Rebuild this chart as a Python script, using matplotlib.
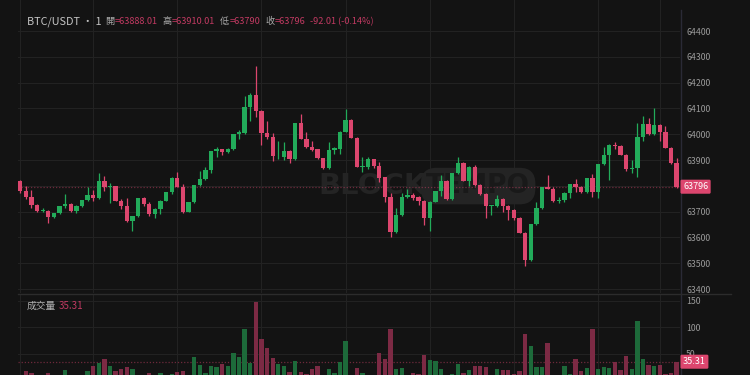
import matplotlib
matplotlib.use("Agg")
import matplotlib.pyplot as plt
from matplotlib.lines import Line2D

plt.rcParams['font.family'] = ['Noto Sans CJK TC', 'DejaVu Sans']

# 1 minute candles, BTC/USDT
opens = [63818, 63780, 63758, 63726, 63702, 63704, 63678, 63694, 63721, 63730,
         63703, 63722, 63744, 63764, 63754, 63819, 63796, 63798, 63741, 63721,
         63663, 63683, 63752, 63729, 63691, 63712, 63743, 63775, 63832, 63797,
         63700, 63736, 63803, 63826, 63860, 63934, 63942, 63930, 63943, 64001,
         64006, 64106, 64151, 64091, 64004, 63988, 63938, 63913, 63936, 63905,
         64043, 63982, 63950, 63942, 63907, 63868, 63939, 63942, 64010, 64055,
         63987, 63875, 63874, 63903, 63877, 63833, 63756, 63622, 63687, 63757,
         63766, 63756, 63743, 63677, 63739, 63780, 63820, 63749, 63849, 63890,
         63820, 63874, 63803, 63769, 63723, 63722, 63750, 63722, 63707, 63677,
         63619, 63513, 63652, 63713, 63796, 63789, 63740, 63745, 63774, 63806,
         63796, 63776, 63829, 63776, 63884, 63920, 63958, 63956, 63920, 63864,
         63871, 63991, 64039, 64000, 64036, 64010, 63948, 63888.01]
highs = [63823, 63800, 63784, 63729, 63715, 63707, 63696, 63722, 63767, 63733,
         63724, 63746, 63797, 63784, 63850, 63838, 63810, 63800, 63750, 63754,
         63684, 63754, 63756, 63738, 63713, 63744, 63776, 63833, 63853, 63807,
         63738, 63805, 63858, 63872, 63936, 63950, 63944, 63945, 64002, 64017,
         64148, 64159, 64265, 64095, 64050, 64004, 63974, 63971, 63939, 64045,
         64079, 64008, 63975, 63944, 63910, 63969, 63952, 64012, 64098, 64058,
         63990, 63911, 63911, 63906, 63891, 63836, 63774, 63716, 63774, 63789,
         63774, 63759, 63745, 63741, 63782, 63842, 63823, 63851, 63913, 63893,
         63877, 63881, 63806, 63772, 63727, 63765, 63753, 63724, 63709, 63679,
         63621, 63654, 63736, 63797, 63842, 63796, 63756, 63776, 63808, 63826,
         63799, 63832, 63846, 63886, 63950, 63961, 63969, 63959, 63922, 63900,
         64045, 64072, 64064, 64101, 64039, 64033, 63951, 63910.01]
lows = [63771, 63748, 63715, 63700, 63700, 63657, 63675, 63690, 63714, 63700,
        63694, 63720, 63742, 63741, 63749, 63781, 63735, 63740, 63709, 63660,
        63624, 63681, 63723, 63683, 63676, 63691, 63740, 63767, 63794, 63696,
        63697, 63734, 63800, 63823, 63851, 63913, 63920, 63928, 63940, 63983,
        64003, 64052, 64068, 63957, 63982, 63898, 63905, 63900, 63888, 63902,
        63980, 63948, 63937, 63905, 63866, 63865, 63924, 63924, 64007, 63985,
        63872, 63855, 63866, 63868, 63814, 63739, 63601, 63619, 63684, 63754,
        63745, 63726, 63648, 63626, 63736, 63761, 63747, 63746, 63846, 63818,
        63800, 63801, 63766, 63677, 63687, 63719, 63700, 63668, 63668, 63616,
        63491, 63510, 63650, 63710, 63787, 63739, 63733, 63737, 63752, 63775,
        63774, 63773, 63758, 63752, 63881, 63823, 63942, 63918, 63858, 63851,
        63836, 63974, 63998, 63997, 63974, 63946, 63885, 63790]
closes = [63780, 63758, 63726, 63703, 63706, 63678, 63694, 63721, 63730, 63703,
          63722, 63744, 63764, 63754, 63819, 63797, 63798, 63741, 63721, 63663,
          63683, 63752, 63729, 63691, 63712, 63743, 63775, 63832, 63797, 63700,
          63736, 63803, 63826, 63860, 63934, 63942, 63930, 63943, 64000, 64010,
          64106, 64151, 64091, 64004, 63988, 63916, 63940, 63935, 63905, 64043,
          63982, 63950, 63939, 63907, 63868, 63939, 63946, 64010, 64055, 63987,
          63874, 63877, 63903, 63877, 63832, 63756, 63622, 63687, 63758, 63766,
          63753, 63743, 63677, 63739, 63780, 63820, 63749, 63849, 63890, 63820,
          63874, 63803, 63769, 63722, 63725, 63750, 63722, 63707, 63674, 63619,
          63513, 63652, 63713, 63796, 63789, 63741, 63745, 63774, 63806, 63797,
          63776, 63829, 63776, 63884, 63920, 63958, 63954, 63920, 63864, 63871,
          63991, 64039, 64000, 64036, 64010, 63948, 63888, 63796]
volumes = [8, 18, 15, 7, 5, 15, 6, 8, 20, 7,
           6, 9, 17, 27, 33, 40, 28, 17, 22, 26,
           22, 9, 7, 14, 8, 14, 9, 12, 16, 17,
           10, 44, 30, 14, 27, 25, 31, 27, 51, 44,
           98, 33, 147, 78, 62, 42, 31, 27, 16, 37,
           16, 12, 21, 27, 9, 21, 15, 35, 74, 9,
           23, 15, 8, 9, 52, 40, 98, 22, 24, 9,
           14, 12, 49, 39, 37, 22, 8, 12, 31, 15,
           20, 27, 28, 26, 7, 22, 20, 20, 12, 18,
           88, 65, 26, 26, 71, 9, 8, 28, 12, 40,
           18, 23, 98, 22, 26, 23, 34, 20, 46, 22,
           112, 41, 29, 27, 29, 12, 15, 35.31]

price_ticks = [63400, 63500, 63600, 63700, 63800, 63900, 64000, 64100, 64200, 64300, 64400]
vol_ticks = [50, 100, 150]
time_grid = [0, 13, 28, 43, 58, 73, 88, 103, 114]
last_price = 63796
last_vol = 35.31
header = [('開', '=63888.01'), ('高', '=63910.01'), ('低', '=63790'), ('收', '=63796')]
change = '-92.01 (-0.14%)'

bg = '#131313'
grid = '#222222'
up = '#22ab5a'
down = '#dc466e'
up_vol = '#1d6a3a'
down_vol = '#7c2a44'
txt = '#9a9a9a'
red_txt = '#c23a62'

W, H = 750, 375
fig = plt.figure(figsize=(7.5, 3.75), dpi=100, facecolor=bg)

def fx(px):
    return px / W

def fy(py):
    return 1 - py / H

ax = fig.add_axes([fx(18), fy(293), fx(680) - fx(18), fy(0) - fy(293)], facecolor=bg)
axv = fig.add_axes([fx(18), 0, fx(680) - fx(18), fy(294)], facecolor=bg)

n = len(opens)
xs = list(range(n))
col = [up if c >= o else down for o, c in zip(opens, closes)]
vcol = [up_vol if c >= o else down_vol for o, c in zip(opens, closes)]

for a in (ax, axv):
    for t in time_grid:
        a.axvline(t, color=grid, lw=0.8, zorder=0)
    for s in a.spines.values():
        s.set_visible(False)
    a.set_xlim(-0.4, 117.6)
    a.set_xticks([])
    a.yaxis.tick_right()
    a.tick_params(axis='y', length=0, pad=4.5, labelcolor=txt, labelsize=6.3)

for p in price_ticks:
    ax.axhline(p, color=grid, lw=0.8, zorder=0)
for v in vol_ticks:
    axv.axhline(v, color=grid, lw=0.8, zorder=0)

# candles
ax.vlines(xs, lows, highs, colors=col, lw=0.9, zorder=3)
bottoms = [min(o, c) for o, c in zip(opens, closes)]
heights = [max(abs(c - o), 3) for o, c in zip(opens, closes)]
ax.bar(xs, heights, bottom=bottoms, width=0.77, color=col, zorder=4)
ax.set_ylim(63384.8, 64520.5)
ax.set_yticks(price_ticks)
# the 63800 label sits under the last price box
ax.set_yticklabels(['' if p == 63800 else str(p) for p in price_ticks])

axv.bar(xs, volumes, width=0.77, color=vcol, zorder=3)
axv.set_ylim(10.4, 163)
axv.set_yticks(vol_ticks)
axv.set_yticklabels([str(v) for v in vol_ticks])

# last value dotted lines
ax.axhline(last_price, color=down, lw=0.9, ls=(0, (1, 1.5)), alpha=0.45, zorder=2)
axv.axhline(last_vol, color=down, lw=0.9, ls=(0, (1, 1.5)), alpha=0.45, zorder=2)

# watermark
ax.text(0.535, 0.365, 'BLOCK', transform=ax.transAxes, fontsize=21, fontweight='bold',
        family='DejaVu Sans', color='#242424', ha='center', va='center', zorder=1)
ax.text(0.695, 0.365, 'TEMPO', transform=ax.transAxes, fontsize=19, fontweight='bold',
        family='DejaVu Sans', color='#191919', ha='center', va='center', zorder=1,
        bbox=dict(boxstyle='round,pad=0.2,rounding_size=0.6', fc='#242424', ec='none'))

# axis frame lines
fig.add_artist(Line2D([fx(680.5), fx(680.5)], [fy(10), 0], color='#2a2a36', lw=1))
fig.add_artist(Line2D([fx(18), fx(731)], [fy(293.5), fy(293.5)], color='#2c2c2c', lw=1))

# last value labels
fig.text(fx(683), fy(186.7), str(last_price), color='white', fontsize=6.5, va='center', ha='left',
         zorder=5, bbox=dict(boxstyle='round,pad=0.28,rounding_size=0.15', fc=down, ec='none'))
fig.text(fx(683), fy(361.7), f'{last_vol:.2f}', color='white', fontsize=6.5, va='center', ha='left',
         zorder=5, bbox=dict(boxstyle='round,pad=0.28,rounding_size=0.15', fc=down, ec='none'))

# header
fig.text(fx(27), fy(21.5), 'BTC/USDT · 1', color='#c4c4c4', fontsize=7.8, va='center')
prev = fig.text(fx(105), fy(21.5), header[0][0], color='#a8a8a8', fontsize=6.6, va='center')
first = True
for lab, val in header:
    if not first:
        prev = ax.annotate(lab, xy=(1, 0.5), xycoords=prev, xytext=(3.6, 0), textcoords='offset points',
                           color='#a8a8a8', fontsize=6.6, va='center', annotation_clip=False)
    first = False
    prev = ax.annotate(val, xy=(1, 0.5), xycoords=prev, xytext=(0.2, 0), textcoords='offset points',
                       color=red_txt, fontsize=6.6, va='center', annotation_clip=False)
ax.annotate(change, xy=(1, 0.5), xycoords=prev, xytext=(3.6, 0), textcoords='offset points',
            color=red_txt, fontsize=6.6, va='center', annotation_clip=False)

fig.text(fx(27), fy(305.7), '成交量', color='#b0b0b0', fontsize=7, va='center')
fig.text(fx(59), fy(305.7), f'{last_vol:.2f}', color=red_txt, fontsize=7, va='center')

fig.savefig('out.png', dpi=100, facecolor=bg)
